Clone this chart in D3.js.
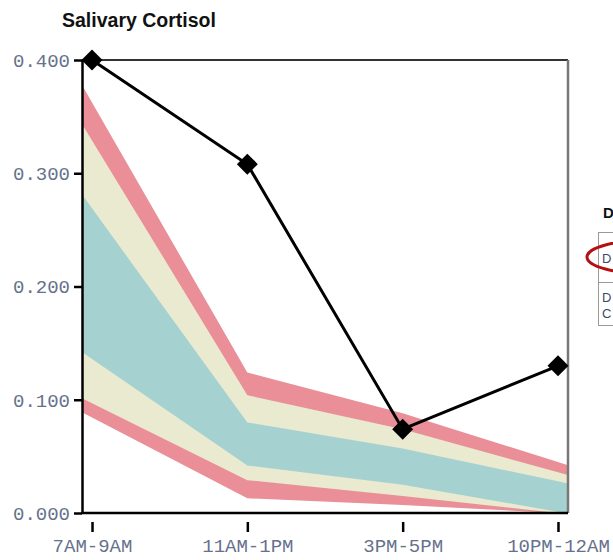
<!DOCTYPE html>
<html>
<head>
<meta charset="utf-8">
<script src="https://cdn.jsdelivr.net/npm/d3@7"></script>
<style>
  html, body { margin: 0; padding: 0; background: #fff; }
  svg { display: block; }
</style>
</head>
<body>
<svg id="chart" width="613" height="560"></svg>
<script>
// Collection windows along the x axis
const categories = ["7AM-9AM", "11AM-1PM", "3PM-5PM", "10PM-12AM"];

// Measured salivary cortisol at each window
const cortisol = [0.400, 0.308, 0.074, 0.130];

// Reference range bands at each window (outer = red, middle = beige, inner = teal)
const outerHigh = [0.3625, 0.124, 0.088, 0.045];
const middleHigh = [0.329, 0.104, 0.074, 0.036];
const innerHigh = [0.269, 0.080, 0.057, 0.028];
const innerLow = [0.136, 0.042, 0.025, 0.001];
const middleLow = [0.097, 0.029, 0.015, 0.000];
const outerLow = [0.0844, 0.013, 0.007, 0.000];

// Y axis tick values
const yTicks = [0.000, 0.100, 0.200, 0.300, 0.400];

const svg = d3.select("#chart");
const plot = { left: 82, right: 568, top: 60, bottom: 513 };
const edgePad = 0.0645;

const x = d3.scalePoint()
  .domain(categories)
  .range([plot.left, plot.right])
  .padding(edgePad);

const y = d3.scaleLinear()
  .domain([0, 0.4])
  .range([plot.bottom, plot.top])
  .clamp(true);

// Band outline: points at each window, extended linearly to the plot edges
function bandPoints(vals) {
  const n = vals.length;
  const pts = vals.map((v, i) => ({ px: x(categories[i]), v }));
  const first = vals[0] - (vals[1] - vals[0]) * edgePad;
  const last = vals[n - 1] + (vals[n - 1] - vals[n - 2]) * edgePad;
  return [{ px: plot.left, v: first }, ...pts, { px: plot.right, v: last }];
}

function bandArea(hi, lo) {
  const top = bandPoints(hi);
  const bottom = bandPoints(lo);
  const rows = top.map((p, i) => ({ px: p.px, hi: p.v, lo: bottom[i].v }));
  return d3.area()
    .x(d => d.px)
    .y0(d => y(d.lo))
    .y1(d => y(d.hi))(rows);
}

const bands = [
  { hi: outerHigh, lo: outerLow, color: "#ea8f98" },
  { hi: middleHigh, lo: middleLow, color: "#eaead0" },
  { hi: innerHigh, lo: innerLow, color: "#a5d2d1" }
];

svg.append("defs").append("clipPath").attr("id", "plotClip")
  .append("rect")
  .attr("x", plot.left).attr("y", plot.top)
  .attr("width", plot.right - plot.left)
  .attr("height", plot.bottom - plot.top);

svg.append("g").attr("clip-path", "url(#plotClip)")
  .selectAll("path")
  .data(bands)
  .join("path")
  .attr("d", d => bandArea(d.hi, d.lo))
  .attr("fill", d => d.color);

// Frame: top and right borders
svg.append("line")
  .attr("x1", plot.left).attr("x2", plot.right)
  .attr("y1", plot.top).attr("y2", plot.top)
  .attr("stroke", "#333").attr("stroke-width", 2);
svg.append("line")
  .attr("x1", plot.right).attr("x2", plot.right)
  .attr("y1", plot.top).attr("y2", plot.bottom)
  .attr("stroke", "#777").attr("stroke-width", 2.5);

const tickFont = "'Courier New', 'Liberation Mono', monospace";
const tickColor = "#66718c";

// Y axis
const yAxis = svg.append("g")
  .attr("transform", `translate(${plot.left},0)`)
  .call(d3.axisLeft(y).tickValues(yTicks).tickFormat(d3.format(".3f"))
    .tickSize(8).tickSizeOuter(0).tickPadding(4));
yAxis.select(".domain").attr("stroke", "#000").attr("stroke-width", 2.5);
yAxis.selectAll(".tick line").attr("stroke", "#000").attr("stroke-width", 2.5);
yAxis.selectAll(".tick text")
  .attr("font-family", tickFont).attr("font-size", 19)
  .attr("fill", tickColor).attr("dy", "0.34em");

// Bottom axis line
svg.append("line")
  .attr("x1", plot.left - 1).attr("x2", plot.right)
  .attr("y1", plot.bottom).attr("y2", plot.bottom)
  .attr("stroke", "#000").attr("stroke-width", 2.5);

// X axis: detached ticks below the baseline
const xAxis = svg.append("g")
  .attr("transform", `translate(0,${plot.bottom + 9})`)
  .call(d3.axisBottom(x).tickSize(10).tickSizeOuter(0).tickPadding(7));
xAxis.select(".domain").remove();
xAxis.selectAll(".tick line").attr("stroke", "#000").attr("stroke-width", 2.5);
xAxis.selectAll(".tick text")
  .attr("font-family", tickFont).attr("font-size", 19)
  .attr("fill", tickColor);

// Measured series
const pts = cortisol.map((v, i) => ({ cat: categories[i], v }));
svg.append("path")
  .datum(pts)
  .attr("fill", "none")
  .attr("stroke", "#000")
  .attr("stroke-width", 3)
  .attr("stroke-linejoin", "miter")
  .attr("d", d3.line().x(d => x(d.cat)).y(d => y(d.v)));

svg.append("g").selectAll("path")
  .data(pts)
  .join("path")
  .attr("d", d3.symbol(d3.symbolSquare, 220))
  .attr("transform", d => `translate(${x(d.cat)},${y(d.v)}) rotate(45)`)
  .attr("fill", "#000");

// Title
svg.append("text")
  .attr("x", 62).attr("y", 27)
  .attr("font-family", "'Liberation Sans', Arial, Helvetica, sans-serif")
  .attr("font-weight", "bold")
  .attr("font-size", 19.5)
  .attr("fill", "#111")
  .text("Salivary Cortisol");

// Neighbouring panel, partly in view at the right edge
const side = svg.append("g")
  .attr("font-family", "'Liberation Sans', Arial, sans-serif");
side.append("text")
  .attr("x", 603).attr("y", 218)
  .attr("font-weight", "bold").attr("font-size", 15)
  .attr("fill", "#111").text("D");
side.append("rect")
  .attr("x", 598.5).attr("y", 232.5)
  .attr("width", 30).attr("height", 93)
  .attr("fill", "none").attr("stroke", "#999").attr("stroke-width", 1);
side.append("line")
  .attr("x1", 598.5).attr("x2", 630)
  .attr("y1", 282.5).attr("y2", 282.5)
  .attr("stroke", "#999").attr("stroke-width", 1);
side.append("text").attr("x", 602).attr("y", 263)
  .attr("font-size", 13).attr("fill", "#3c4a6a").text("D");
side.append("text").attr("x", 602).attr("y", 302)
  .attr("font-size", 13).attr("fill", "#3c4a6a").text("D");
side.append("text").attr("x", 602).attr("y", 318)
  .attr("font-size", 13).attr("fill", "#3c4a6a").text("C");
side.append("ellipse")
  .attr("cx", 650).attr("cy", 257)
  .attr("rx", 63).attr("ry", 17)
  .attr("fill", "none").attr("stroke", "#b50f12").attr("stroke-width", 3);
</script>
</body>
</html>
